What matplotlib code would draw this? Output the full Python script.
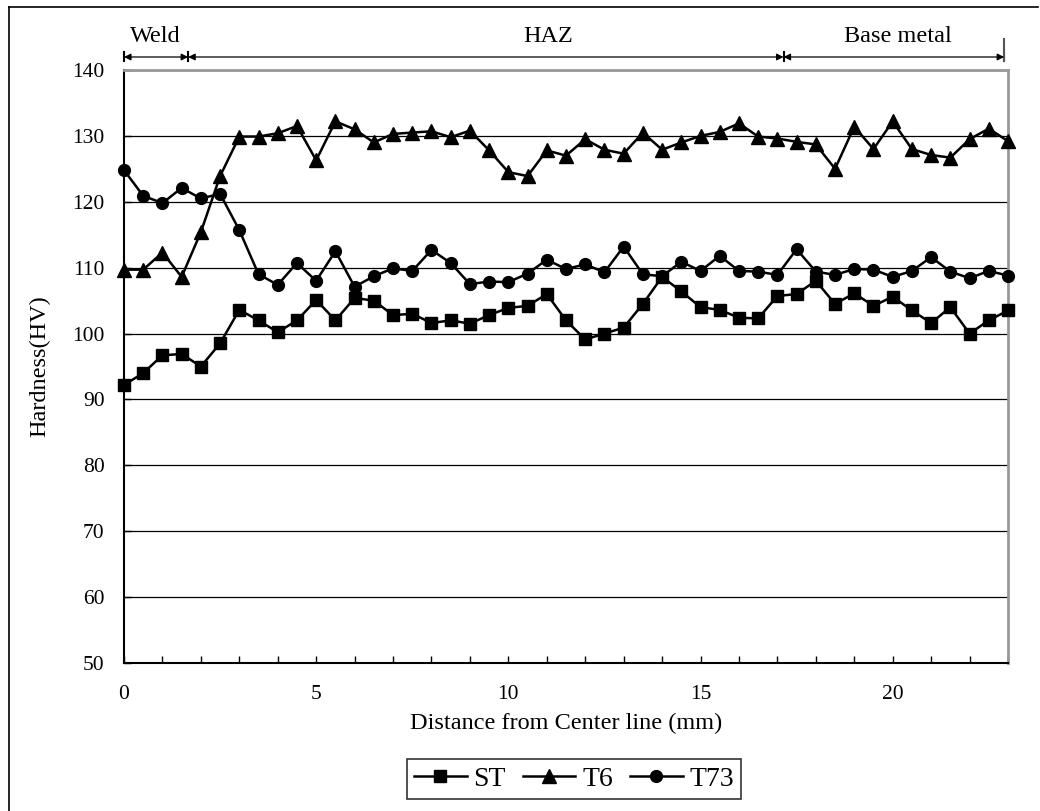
import matplotlib
matplotlib.use("Agg")
import matplotlib.pyplot as plt
from matplotlib.ticker import MultipleLocator, FuncFormatter
from matplotlib.lines import Line2D

distance = [i * 0.5 for i in range(47)]

st = [92.2, 94.0, 96.7, 96.9, 95.0, 98.5, 103.6, 102.0, 100.2, 102.0, 105.1, 102.0,
      105.4, 105.0, 102.8, 103.0, 101.6, 102.0, 101.5, 102.8, 103.9, 104.2, 106.0, 102.0,
      99.1, 100.0, 100.9, 104.5, 108.6, 106.4, 104.0, 103.6, 102.4, 102.3, 105.7, 106.0,
      108.0, 104.5, 106.1, 104.2, 105.6, 103.5, 101.6, 104.0, 100.0, 102.0, 103.5]

t6 = [109.7, 109.7, 112.3, 108.6, 115.4, 123.9, 129.9, 129.9, 130.4, 131.5, 126.3, 132.2,
      131.0, 129.0, 130.3, 130.5, 130.7, 129.8, 130.8, 127.8, 124.5, 123.9, 127.8, 127.0,
      129.5, 127.9, 127.3, 130.5, 127.9, 129.0, 130.0, 130.6, 131.9, 129.9, 129.6, 129.1,
      128.7, 125.0, 131.4, 128.0, 132.2, 128.0, 127.1, 126.7, 129.5, 131.1, 129.2]

t73 = [124.8, 120.9, 119.8, 122.1, 120.5, 121.2, 115.7, 109.0, 107.4, 110.7, 108.0, 112.5,
       107.1, 108.7, 109.9, 109.5, 112.7, 110.7, 107.5, 107.9, 107.8, 109.1, 111.2, 109.8,
       110.5, 109.3, 113.2, 109.0, 108.7, 110.9, 109.5, 111.8, 109.5, 109.4, 108.9, 112.8,
       109.4, 108.9, 109.8, 109.7, 108.6, 109.5, 111.6, 109.4, 108.4, 109.5, 108.8]

series_names = ["ST", "T6", "T73"]
zone_names = ["Weld", "HAZ", "Base metal"]
zone_bounds = [0, 1.67, 17.16, 22.9]
zone_text_x = [0.15, 11.04, 20.13]
zone_text_ha = ["left", "center", "center"]

plt.rcParams["font.family"] = ["Liberation Serif", "DejaVu Serif"]

fig = plt.figure(figsize=(10.4, 8.11), dpi=100)
ax = fig.add_axes([124 / 1040, 1 - 663 / 811, (1008 - 124) / 1040, (663 - 70) / 811])

ax.plot(distance, st, marker="s", label=series_names[0], color="black", lw=1.8,
        markersize=8.5, clip_on=False, zorder=3)
ax.plot(distance, t6, marker="^", label=series_names[1], color="black", lw=1.8,
        markersize=9.5, clip_on=False, zorder=3)
ax.plot(distance, t73, marker="o", label=series_names[2], color="black", lw=1.8,
        markersize=8.5, clip_on=False, zorder=3)

ax.set_xlim(0, 23)
ax.set_ylim(50, 140)
ax.xaxis.set_major_locator(MultipleLocator(1))
ax.xaxis.set_major_formatter(FuncFormatter(lambda v, p: f"{int(round(v))}" if int(round(v)) % 5 == 0 else ""))
ax.yaxis.set_major_locator(MultipleLocator(10))
ax.tick_params(axis="both", direction="in", length=5, width=1, labelsize=15.5, colors="black")
ax.tick_params(axis="x", pad=16)
ax.tick_params(axis="y", pad=14)
ax.grid(axis="y", color="black", lw=0.9)
ax.set_axisbelow(True)

for s in ["left", "bottom"]:
    ax.spines[s].set_color("black")
    ax.spines[s].set_linewidth(1.5)
for s in ["top", "right"]:
    ax.spines[s].set_color("#999999")
    ax.spines[s].set_linewidth(2)

ax.set_xlabel("Distance from Center line (mm)", fontsize=17.5, labelpad=6)
ax.set_ylabel("Hardness(HV)", fontsize=17.5, labelpad=16)

# zone annotations
tr = ax.get_xaxis_transform()
y_arrow = (663 - 57) / 593
y_text = (663 - 37) / 593
for i, name in enumerate(zone_names):
    ax.annotate("", xy=(zone_bounds[i], y_arrow), xytext=(zone_bounds[i + 1], y_arrow),
                xycoords=tr, textcoords=tr,
                arrowprops=dict(arrowstyle="<|-|>", color="black", lw=0.9,
                                mutation_scale=10, shrinkA=0, shrinkB=0),
                annotation_clip=False)
    ax.text(zone_text_x[i], y_text, name, transform=tr, ha=zone_text_ha[i], va="center",
            fontsize=17.5, clip_on=False)
for b in zone_bounds:
    ax.plot([b, b], [y_arrow - 0.006, y_arrow + 0.008], transform=tr, color="black",
            lw=1.5, clip_on=False)
ax.plot([zone_bounds[-1]] * 2, [y_arrow - 0.006, y_arrow + 0.03], transform=tr,
        color="#555555", lw=1.5, clip_on=False)

leg = fig.legend(loc="center", bbox_to_anchor=(574 / 1040, 1 - 779 / 811), ncol=3,
                 fontsize=20, frameon=True, fancybox=False, edgecolor="black",
                 handlelength=1.9, handletextpad=0.25, columnspacing=0.6,
                 borderpad=0.25, borderaxespad=0)
leg.get_frame().set_linewidth(1.2)

# outer frame
fig.add_artist(Line2D([9 / 1040, 9 / 1040], [0, 1 - 7 / 811], transform=fig.transFigure, color="black", lw=1.2))
fig.add_artist(Line2D([9 / 1040, 1038 / 1040], [1 - 7 / 811, 1 - 7 / 811], transform=fig.transFigure, color="black", lw=1.2))

fig.savefig("out.png", dpi=100)
